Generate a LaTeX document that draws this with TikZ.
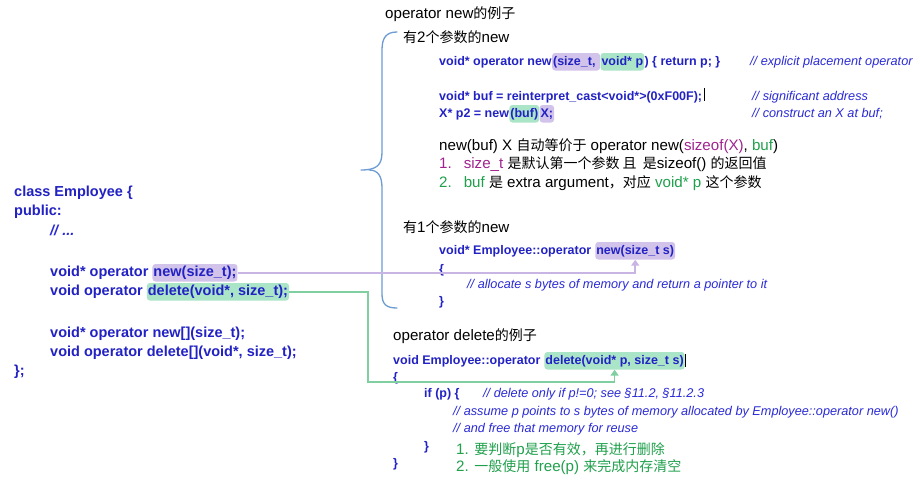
\documentclass[tikz,border=0pt]{standalone}
\usepackage{fontspec}
\setmainfont{Liberation Sans}
\newfontfamily\notesf{Liberation Sans}[Scale=1.08]
\newfontfamily\cjk{Noto Sans CJK SC}
\usepackage{xcolor}
\usetikzlibrary{arrows.meta}
\definecolor{codeblue}{HTML}{2222C4}
\definecolor{cmtblue}{HTML}{2B2BD6}
\definecolor{hlpurple}{HTML}{D2C3EA}
\definecolor{hlgreen}{HTML}{ABE5C8}
\definecolor{linepurple}{HTML}{C9B5E3}
\definecolor{linegreen}{HTML}{7FCFA0}
\definecolor{notepurple}{HTML}{A1238F}
\definecolor{notegreen}{HTML}{20A04C}
\definecolor{bracecol}{HTML}{6D9CD3}
\newcommand{\zh}[1]{{\cjk #1}}
\newcommand{\gap}{\kern3.6pt}
\newcommand{\codefont}{\fontsize{12.5}{15}\selectfont\bfseries}
\newcommand{\bigcodefont}{\fontsize{14.5}{17}\selectfont\bfseries}
\newcommand{\cmtfont}{\fontsize{12.7}{15}\selectfont\itshape}
\newcommand{\notefont}{\fontsize{14}{17}\selectfont\notesf}
\tikzset{
  code/.style={inner sep=0pt, anchor=base west, text=codeblue, font=\codefont},
  bigcode/.style={code, font=\bigcodefont},
  cmt/.style={inner sep=0pt, anchor=base west, text=cmtblue, font=\cmtfont},
  note/.style={inner sep=0pt, anchor=base west, text=black, font=\notefont},
  hlp/.style={fill=hlpurple, rounded corners=3pt, inner xsep=1pt, inner ysep=2.5pt, text height=9.5pt, text depth=3pt},
  hlg/.style={hlp, fill=hlgreen},
  linkp/.style={draw=linepurple, line width=1.5pt, -{Triangle[width=8pt,length=6pt]}},
  linkg/.style={linkp, draw=linegreen},
  brace/.style={draw=bracecol, line width=1.3pt, line cap=round},
  caret/.style={draw=black, line width=0.5pt},
}
\begin{document}
\begin{tikzpicture}[x=1pt,y=-1pt]
  \fill[white] (0,0) rectangle (923,482);
  \useasboundingbox (0,0) rectangle (923,482);

  % class declaration
  \node[bigcode] (cls1) at (14,196) {class Employee \{};
  \node[bigcode] (cls2) at (14,215) {public:};
  \node[cmt, font=\bigcodefont\itshape] (cls3) at (50,235) {// ...};
  \node[bigcode] (clsnew) at (50,276) {void* operator\gap};
  \node[bigcode, hlp] (clsnewhl) at (clsnew.base east) {new(size\_t);};
  \node[bigcode] (clsdel) at (50,295) {void operator\gap};
  \node[bigcode, hlg] (clsdelhl) at (clsdel.base east) {delete(void*, size\_t);};
  \node[bigcode] (clsnewarr) at (50,337) {void* operator new[](size\_t);};
  \node[bigcode] (clsdelarr) at (50,356) {void operator delete[](void*, size\_t);};
  \node[bigcode] (clsend) at (14,375) {\};};

  % operator new examples
  \node[note] (hnew) at (385,18) {operator new\zh{的例子}};
  \draw[brace] (397,32) .. controls (386,32) and (382,38) .. (382,50) -- (382,152)
    .. controls (382,165) and (377,170) .. (361,170);
  \draw[brace] (369,170) .. controls (378,170) and (382,176) .. (382,188) -- (382,294)
    .. controls (382,304) and (386,308) .. (397,308);

  \node[note] (htwo) at (403,42) {\zh{有}2\zh{个参数的}new};
  \node[code] (pl1) at (439,65) {void* operator new};
  \node[code, hlp] (pl1a) at (pl1.base east) {(size\_t,\gap};
  \node[code, hlg] (pl1b) at (pl1a.base east) {void* p};
  \node[code] (pl1c) at (pl1b.base east) {) \{ return p; \}};
  \node[cmt] (pc1) at (750,65) {// explicit placement operator};
  \node[code] (pl2) at (439,100) {void* buf = reinterpret\_cast<void*>(0xF00F);};
  \draw[caret] (pl2.east) ++(1.5,-9) -- ++(0,13);
  \node[cmt] (pc2) at (752,100) {// significant address};
  \node[code] (pl3) at (439,117) {X* p2 = new};
  \node[code, hlg] (pl3a) at (pl3.base east) {(buf)};
  \node[code, hlp] (pl3b) at (pl3a.base east) {X;};
  \node[cmt] (pc3) at (752,117) {// construct an X at buf;};

  \node[note] (eq) at (439,150) {new(buf) X \zh{自动等价于} operator new(\textcolor{notepurple}{sizeof(X)}, \textcolor{notegreen}{buf})};
  \node[note] (eq1) at (439,168) {\textcolor{notepurple}{1.\hspace{12pt}size\_t} \zh{是默认第一个参数 且\ \ 是}sizeof() \zh{的返回值}};
  \node[note] (eq2) at (439,187) {\textcolor{notegreen}{2.\hspace{12pt}buf} \zh{是} extra argument\zh{，对应} \textcolor{notegreen}{void* p} \zh{这个参数}};

  \node[note] (hone) at (403,232) {\zh{有}1\zh{个参数的}new};
  \node[code] (ol1) at (439,254) {void* Employee::operator\gap};
  \node[code, hlp] (newS) at (ol1.base east) {new(size\_t s)};
  \node[code] (ol2) at (439,273) {\{};
  \node[cmt] (oc) at (467,288) {// allocate s bytes of memory and return a pointer to it};
  \node[code] (ol3) at (439,305) {\}};

  % operator delete example
  \node[note] (hdel) at (393,340) {operator delete\zh{的例子}};
  \node[code] (dl1) at (393,364) {void Employee::operator\gap};
  \node[code, hlg] (delS) at (dl1.base east) {delete(void* p, size\_t s)};
  \draw[caret] (delS.east) ++(0.5,-6.5) -- ++(0,13);
  \node[code] (dl2) at (393,381) {\{};
  \node[code] (dl3) at (424,397) {if (p) \{};
  \node[cmt] (dc1) at (483,397) {// delete only if p!=0; see §11.2, §11.2.3};
  \node[cmt] (dc2) at (453,415) {// assume p points to s bytes of memory allocated by Employee::operator new()};
  \node[cmt] (dc3) at (453,432) {// and free that memory for reuse};
  \node[code] (dl4) at (424,450) {\}};
  \node[code] (dl5) at (393,467) {\}};
  \node[note, text=notegreen] (dn1) at (456,454) {1. \zh{要判断}p\zh{是否有效，再进行删除}};
  \node[note, text=notegreen] (dn2) at (456,471) {2. \zh{一般使用} free(p) \zh{来完成内存清空}};

  % links from the declarations
  \draw[linkp] (clsnewhl.east) -| (newS.south);
  \coordinate (delbend) at (368,382);
  \draw[linkg] (clsdelhl.east) -| (delbend) -| (delS.south);
\end{tikzpicture}
\end{document}
